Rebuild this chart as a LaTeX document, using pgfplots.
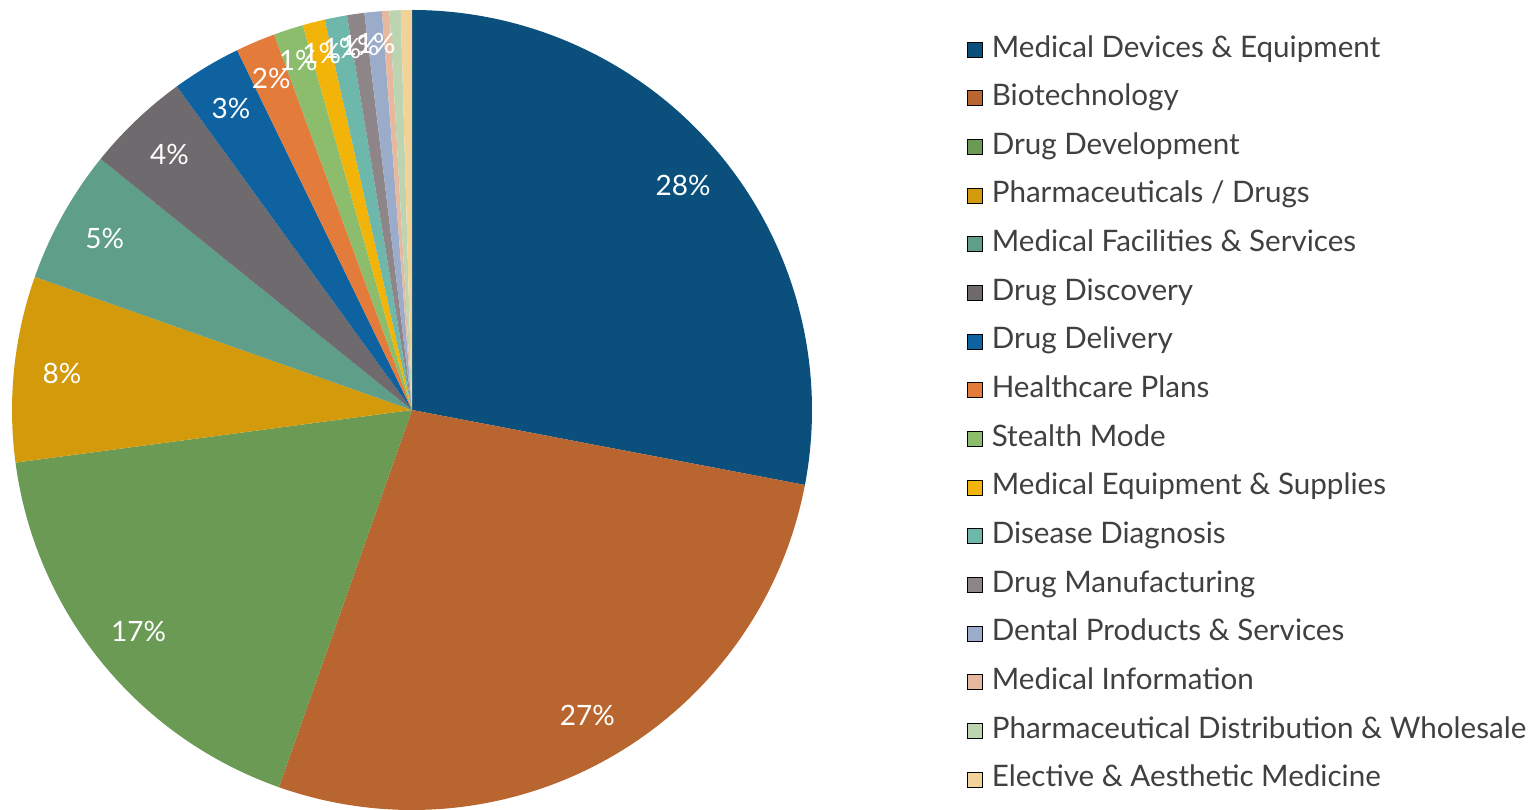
\documentclass[border=0pt]{standalone}
\usepackage{pgfplots}
\pgfplotsset{compat=1.18}
\usepackage{pgfplotstable}
\usepackage{fontspec}
\setmainfont{Lato}

\definecolor{c0}{HTML}{0B4F7C}
\definecolor{c1}{HTML}{B8652F}
\definecolor{c2}{HTML}{6B9A55}
\definecolor{c3}{HTML}{D39A0C}
\definecolor{c4}{HTML}{5F9E89}
\definecolor{c5}{HTML}{6F6A6E}
\definecolor{c6}{HTML}{0E62A0}
\definecolor{c7}{HTML}{E37B3B}
\definecolor{c8}{HTML}{8CBD6C}
\definecolor{c9}{HTML}{F3B409}
\definecolor{c10}{HTML}{6DB8AB}
\definecolor{c11}{HTML}{8E8589}
\definecolor{c12}{HTML}{9BACCB}
\definecolor{c13}{HTML}{E6B8A0}
\definecolor{c14}{HTML}{BCD5B0}
\definecolor{c15}{HTML}{F1D399}
\definecolor{legendgray}{HTML}{404040}

% share of each category (percent), the rounded label shown (-1 = none),
% and the label's distance from the centre (fraction of the radius)
\pgfplotstableread[col sep=comma]{
value,lab,r
28.0,28,0.88
27.4,27,0.88
17.5,17,0.88
7.5,8,0.88
5.4,5,0.88
4.2,4,0.88
2.8,3,0.88
1.6,2,0.90
1.2,1,0.92
0.9,1,0.92
0.9,1,0.92
0.7,1,0.92
0.7,1,0.92
0.3,-1,0.92
0.45,-1,0.92
0.45,-1,0.92
}\piedata

\begin{document}
\begin{tikzpicture}
\useasboundingbox (0,0) rectangle (768.5pt,404.5pt);
\begin{axis}[
  at={(206pt,199.5pt)}, anchor=center,
  scale only axis, width=400pt, height=400pt,
  xmin=-1, xmax=1, ymin=-1, ymax=1,
  hide axis, clip=false,
  legend image code/.code={\fill[#1] (0pt,-3.75pt) rectangle (7.5pt,3.75pt);},
  legend cell align=left,
  legend style={at={(1.19375,0.97)}, anchor=north west, draw=none, fill=none,
    inner sep=0pt, outer sep=0pt, row sep=8.83pt, column sep=4.5pt,
    font=\fontsize{14.8}{17}\selectfont, text=legendgray,
    nodes={inner sep=0pt, text height=11.5pt, text depth=4pt}},
]
\pgfplotsextra{
  \def\cum{0}
  \pgfplotsforeachungrouped \i in {0,...,15}{
    \pgfplotstablegetelem{\i}{value}\of\piedata
    \let\v\pgfplotsretval
    \pgfmathsetmacro\a{90-3.6*\cum}
    \pgfmathsetmacro\b{90-3.6*(\cum+\v)}
    \fill[c\i] (axis cs:0,0) -- (axis cs:{cos(\a)},{sin(\a)})
       arc[start angle=\a, end angle=\b, radius=200pt] -- cycle;
    \pgfmathsetmacro\cum{\cum+\v}
  }
  \def\cum{0}
  \pgfplotsforeachungrouped \i in {0,...,15}{
    \pgfplotstablegetelem{\i}{value}\of\piedata
    \let\v\pgfplotsretval
    \pgfplotstablegetelem{\i}{r}\of\piedata
    \let\rr\pgfplotsretval
    \pgfplotstablegetelem{\i}{lab}\of\piedata
    \let\l\pgfplotsretval
    \pgfmathsetmacro\m{90-3.6*(\cum+\v/2)}
    \ifnum\l>0
      \node[text=white, font=\fontsize{14}{16}\selectfont, inner sep=0pt]
        at (axis cs:{\rr*cos(\m)},{\rr*sin(\m)}) {\l\%};
    \fi
    \pgfmathsetmacro\cum{\cum+\v}
  }
}
\addlegendimage{fill=c0}\addlegendentry{Medical Devices \& Equipment}
\addlegendimage{fill=c1}\addlegendentry{Biotechnology}
\addlegendimage{fill=c2}\addlegendentry{Drug Development}
\addlegendimage{fill=c3}\addlegendentry{Pharmaceuticals / Drugs}
\addlegendimage{fill=c4}\addlegendentry{Medical Facilities \& Services}
\addlegendimage{fill=c5}\addlegendentry{Drug Discovery}
\addlegendimage{fill=c6}\addlegendentry{Drug Delivery}
\addlegendimage{fill=c7}\addlegendentry{Healthcare Plans}
\addlegendimage{fill=c8}\addlegendentry{Stealth Mode}
\addlegendimage{fill=c9}\addlegendentry{Medical Equipment \& Supplies}
\addlegendimage{fill=c10}\addlegendentry{Disease Diagnosis}
\addlegendimage{fill=c11}\addlegendentry{Drug Manufacturing}
\addlegendimage{fill=c12}\addlegendentry{Dental Products \& Services}
\addlegendimage{fill=c13}\addlegendentry{Medical Information}
\addlegendimage{fill=c14}\addlegendentry{Pharmaceutical Distribution \& Wholesale}
\addlegendimage{fill=c15}\addlegendentry{Elective \& Aesthetic Medicine}
\end{axis}
\end{tikzpicture}
\end{document}
